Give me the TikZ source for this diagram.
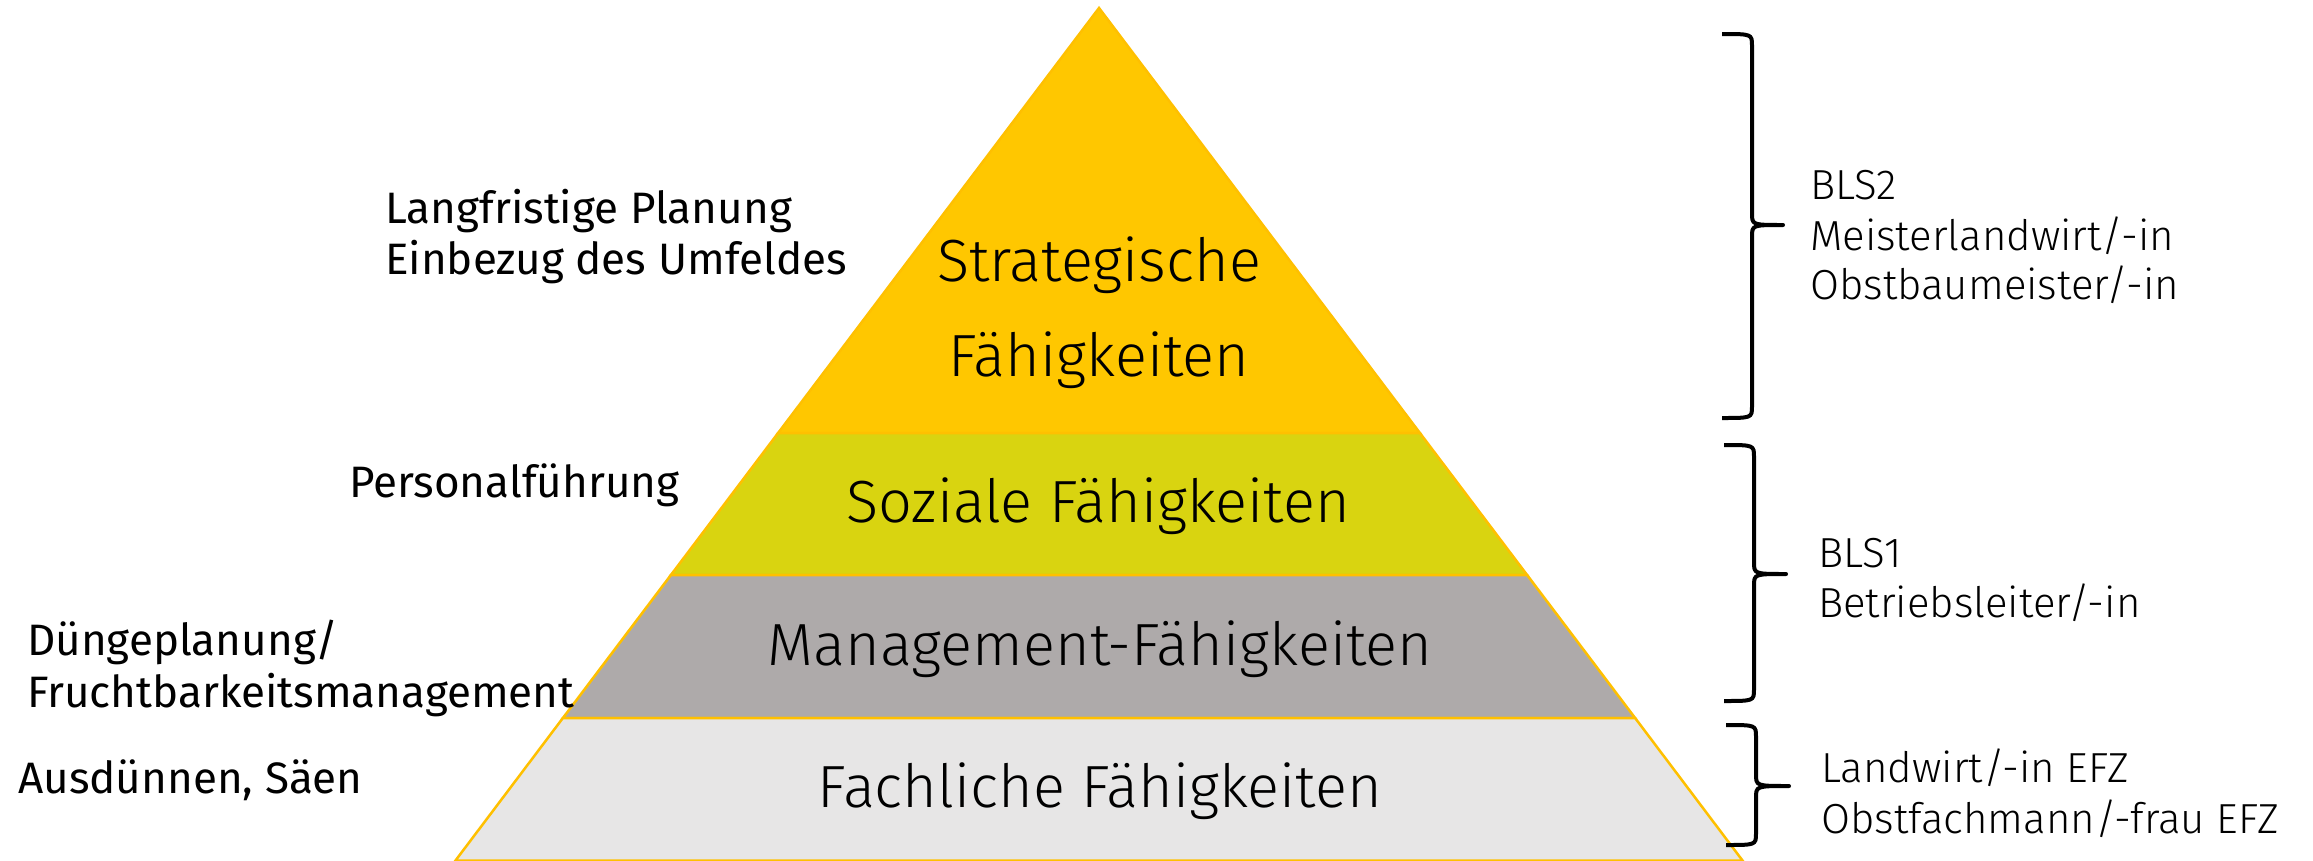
\documentclass[tikz,border=0pt]{standalone}
\usepackage{fontspec}
\setmainfont{Fira Sans}
\IfFontExistsTF{Fira Sans Light}{\newfontfamily\lightfont{Fira Sans Light}}{%
  \IfFontExistsTF{FiraSans-Light.otf}{\newfontfamily\lightfont{FiraSans-Light.otf}}{\newfontfamily\lightfont{Fira Sans}}}
\definecolor{strat}{HTML}{FFC700}
\definecolor{sozial}{HTML}{D9D410}
\definecolor{mgmt}{HTML}{AEAAAA}
\definecolor{fach}{HTML}{E7E6E6}
\definecolor{edge}{HTML}{FFC000}
\begin{document}
\begin{tikzpicture}[x=1pt,y=-1pt,
  layer/.style={draw=edge, line width=2.5pt, line join=miter},
  lefttxt/.style={anchor=base west, inner sep=0pt, font=\fontsize{44}{52}\selectfont},
  righttxt/.style={anchor=base west, inner sep=0pt, font=\lightfont\fontsize{42}{50}\selectfont},
  pyrtxt/.style={anchor=base, inner sep=0pt, font=\lightfont\fontsize{59.5}{70}\selectfont},
  bracestyle/.style={draw=black, line width=4pt, line cap=butt, line join=round}]
\useasboundingbox (0,0) rectangle (2313,860);
\fill[white] (0,0) rectangle (2313,860);

% pyramid layers
\path[layer, fill=strat] (1099,8) -- (1419.9,433) -- (778.1,433) -- cycle;
\path[layer, fill=sozial] (778.1,433) -- (1419.9,433) -- (1527.1,575) -- (670.9,575) -- cycle;
\path[layer, fill=mgmt] (670.9,575) -- (1527.1,575) -- (1635.1,718) -- (562.9,718) -- cycle;
\path[layer, fill=fach] (562.9,718) -- (1635.1,718) -- (1742.5,860.5) -- (455.5,860.5) -- cycle;

% pyramid labels
\node[pyrtxt] (strat1) at (1099,281) {Strategische};
\node[pyrtxt] (strat2) at (1099,376) {Fähigkeiten};
\node[pyrtxt] (soz) at (1098,522) {Soziale Fähigkeiten};
\node[pyrtxt] (man) at (1100,665) {Management-Fähigkeiten};
\node[pyrtxt] (fac) at (1100,807) {Fachliche Fähigkeiten};

% left labels
\node[lefttxt] (l1a) at (385,223) {Langfristige Planung};
\node[lefttxt] (l1b) at (385,274) {Einbezug des Umfeldes};
\node[lefttxt] (l2) at (349,497) {Personalführung};
\node[lefttxt] (l3a) at (27,655) {Düngeplanung/};
\node[lefttxt] (l3b) at (27,707) {Fruchtbarkeitsmanagement};
\node[lefttxt] (l4) at (18,793) {Ausdünnen, Säen};

% braces
\draw[bracestyle] (1722,34) .. controls (1752,34) .. (1752,46) -- (1752,213)
  .. controls (1752,225) .. (1783,225) .. controls (1752,225) .. (1752,237)
  -- (1752,406) .. controls (1752,418) .. (1722,418);
\draw[bracestyle] (1724,445) .. controls (1754,445) .. (1754,457) -- (1754,562)
  .. controls (1754,574) .. (1786,574) .. controls (1754,574) .. (1754,586)
  -- (1754,689) .. controls (1754,701) .. (1724,701);
\draw[bracestyle] (1726,725) .. controls (1756,725) .. (1756,737) -- (1756,774)
  .. controls (1756,786) .. (1789,786) .. controls (1756,786) .. (1756,798)
  -- (1756,833) .. controls (1756,845) .. (1726,845);

% right labels
\node[righttxt] (r1a) at (1810,199) {BLS2};
\node[righttxt] (r1b) at (1810,250) {Meisterlandwirt/-in};
\node[righttxt] (r1c) at (1810,299) {Obstbaumeister/-in};
\node[righttxt] (r2a) at (1818,567) {BLS1};
\node[righttxt] (r2b) at (1818,617) {Betriebsleiter/-in};
\node[righttxt] (r3a) at (1821,782) {Landwirt/-in EFZ};
\node[righttxt] (r3b) at (1821,833) {Obstfachmann/-frau EFZ};
\end{tikzpicture}
\end{document}
